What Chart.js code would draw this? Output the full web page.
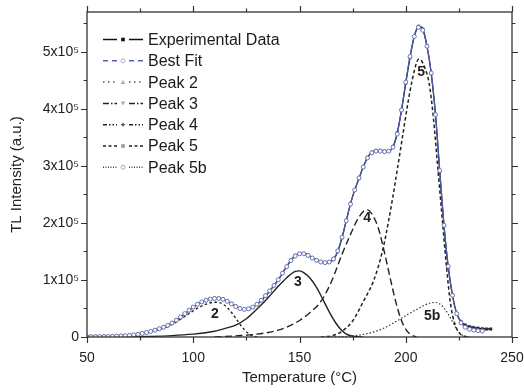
<!DOCTYPE html>
<html><head><meta charset="utf-8">
<script src="https://cdn.jsdelivr.net/npm/chart.js@4.4.1/dist/chart.umd.min.js"></script>
<style>html,body{margin:0;padding:0;background:#fff;}canvas{display:block;}</style>
</head><body>
<canvas id="c" width="524" height="392"></canvas>
<script>
// ---- data (temperature in °C, TL intensity in a.u.) ----
const expTemp = [50,52,54,56,58,60,62,64,66,68,70,72,74,76,78,80,82,84,86,88,90,92,94,96,98,100,102,104,106,108,110,112,114,116,118,120,122,124,126,128,130,132,134,136,138,140,142,144,146,148,150,152,154,156,158,160,162,164,166,168,170,172,174,176,178,180,182,184,186,188,190,192,194,196,198,200,202,204,206,208,210,212,214,216,218,220,222,224,226,228,230,232,234,236,238,240];
const expIntensity = [1000,1000,1000,1000,1000,1200,1300,1500,1800,2200,2800,3500,4500,6000,7800,9800,12000,14500,17000,20000,24000,29000,34500,40500,46500,52000,57000,61000,64000,66500,68000,68000,66500,63000,58500,54000,50500,48500,49000,52000,57000,64000,72000,80500,90000,100000,112000,124000,135000,143000,146500,146500,143500,139000,135000,132000,130500,131000,136000,150000,174000,204000,234000,258000,278000,298000,315000,324000,327000,327000,326000,326000,334000,358000,398000,445000,490000,527000,545000,540000,510000,462000,390000,290000,195000,122000,73000,41000,27000,21000,18000,16500,15500,14500,14000,14000];

const fitTemp = [50,52,54,56,58,60,62,64,66,68,70,72,74,76,78,80,82,84,86,88,90,92,94,96,98,100,102,104,106,108,110,112,114,116,118,120,122,124,126,128,130,132,134,136,138,140,142,144,146,148,150,152,154,156,158,160,162,164,166,168,170,172,174,176,178,180,182,184,186,188,190,192,194,196,198,200,202,204,206,208,210,212,214,216,218,220,222,224,226,228,230,232,234,236];
const fitIntensity = [500,500,600,700,800,1000,1200,1500,1900,2400,3000,3800,4800,6200,7900,9800,12000,14500,17200,20500,24500,29500,35000,41000,47000,52500,57500,61500,64500,66500,67500,67500,66000,62500,58000,53500,50000,48500,49500,52500,57500,64500,72500,81000,90500,100500,112000,123500,134000,142000,146000,146000,143000,138500,134500,131500,130500,131500,137000,151000,175000,204000,233000,258000,279000,298000,314000,323000,326000,326000,325000,326000,333000,356000,398000,447000,492000,527000,543000,538000,510000,463000,390000,292000,196000,124000,73000,41000,25000,17000,13500,12000,11000,10500];

const peak2Temp = [50,60,70,74,78,82,86,90,94,98,102,106,108,110,112,114,116,118,120,122,124,126,128,130];
const peak2Intensity = [0,500,2500,4000,7000,11000,15500,22000,31000,41000,50500,57500,60000,61000,60500,57500,51500,43000,33000,22500,13000,6000,2000,0];

const peak3Temp = [70,80,90,100,105,110,115,120,125,130,135,140,144,148,150,152,155,158,161,164,167,170,173,176,180];
const peak3Intensity = [0,1000,2500,5000,7000,10000,15000,21000,32000,49000,68000,89000,104000,115000,116000,113000,103000,87000,66000,44000,25000,11000,3500,800,0];

const peak4Temp = [110,120,130,140,145,150,155,160,165,170,174,177,180,182,184,187,190,193,196,199,202,205];
const peak4Intensity = [0,2000,5000,12000,19000,29000,43000,62000,97000,145000,180000,204000,220000,223000,216000,192000,148000,98000,52000,20000,5000,0];

const peak5Temp = [160,165,170,175,180,185,189,192,195,198,201,203,205,206,207,209,211,213,215,217,219,221,223,225,227,230];
const peak5Intensity = [0,2000,10000,28000,62000,100000,150000,205000,270000,340000,410000,450000,480000,487000,486000,472000,445000,385000,300000,215000,130000,60000,24000,8000,2000,0];

const peak5bTemp = [165,170,175,180,185,190,194,198,202,206,209,212,214,216,218,220,222,224,226,228,230];
const peak5bIntensity = [0,500,2000,4500,9000,16000,24000,33000,42000,50000,56000,60000,60500,58000,51000,40000,27000,14000,5000,1000,0];

const seriesNames = ["Experimental Data","Best Fit","Peak 2","Peak 3","Peak 4","Peak 5","Peak 5b"];
const xTickValues = [50,100,150,200,250];
const yTickValues = [0,100000,200000,300000,400000,500000];
const peakLabelText = ["2","3","4","5","5b"];
const peakLabelTemp = [110.2,149.3,181.8,207.2,212.4];
const peakLabelIntensity = [40000,96000,209000,465000,37000];

// ---- build chart ----
const pts = (t, v) => t.map((x, i) => ({x: x, y: v[i]}));
const FONT = '"Liberation Sans", Arial, Helvetica, sans-serif';
const TXT = '#222';

const datasets = [
  {label: seriesNames[0], data: pts(expTemp, expIntensity), order: 1,
   borderColor: '#111', borderWidth: 1.3, pointStyle: 'rect', pointRadius: 1.8,
   pointBackgroundColor: '#2a2a40', pointBorderColor: '#2a2a40', pointBorderWidth: 0.5,
   legendDash: [], legendColor: '#111', legendMarker: 'fsquare', legendMarkerColor: '#111'},
  {label: seriesNames[1], data: pts(fitTemp, fitIntensity), order: 0,
   borderColor: '#4f5cae', borderWidth: 1.2, pointStyle: 'circle', pointRadius: 2,
   pointBackgroundColor: '#ffffff', pointBorderColor: '#6a74b0', pointBorderWidth: 1,
   legendDash: [5,4], legendColor: '#5560b0', legendMarker: 'ocircle', legendMarkerColor: '#aab0d8'},
  {label: seriesNames[2], data: pts(peak2Temp, peak2Intensity), order: 2,
   borderColor: '#222', borderWidth: 1.4, borderDash: [2.5,2.5], pointRadius: 0,
   legendDash: [1.5,3.5], legendColor: '#555', legendMarker: 'tri', legendMarkerColor: '#aaa'},
  {label: seriesNames[3], data: pts(peak3Temp, peak3Intensity), order: 2,
   borderColor: '#222', borderWidth: 1.4, borderDash: [], pointRadius: 0,
   legendDash: [6,2,1.5,2], legendColor: '#222', legendMarker: 'dtri', legendMarkerColor: '#aaa'},
  {label: seriesNames[4], data: pts(peak4Temp, peak4Intensity), order: 2,
   borderColor: '#222', borderWidth: 1.4, borderDash: [7,3.5], pointRadius: 0,
   legendDash: [4,2,1.5,2,1.5,2], legendColor: '#222', legendMarker: 'plus', legendMarkerColor: '#333'},
  {label: seriesNames[5], data: pts(peak5Temp, peak5Intensity), order: 2,
   borderColor: '#222', borderWidth: 1.5, borderDash: [3.5,2.5], pointRadius: 0,
   legendDash: [3,2.5], legendColor: '#222', legendMarker: 'fsquare', legendMarkerColor: '#999'},
  {label: seriesNames[6], data: pts(peak5bTemp, peak5bIntensity), order: 2,
   borderColor: '#333', borderWidth: 1.2, borderDash: [1.5,2], pointRadius: 0,
   legendDash: [1,1.5], legendColor: '#444', legendMarker: 'ocircle', legendMarkerColor: '#aaa'}
];

function drawMarker(ctx, kind, x, y, color) {
  ctx.save();
  ctx.setLineDash([]);
  ctx.fillStyle = color; ctx.strokeStyle = color; ctx.lineWidth = 1;
  ctx.beginPath();
  if (kind === 'fsquare') { ctx.fillRect(x - 1.8, y - 1.8, 3.6, 3.6); }
  else if (kind === 'ocircle') { ctx.arc(x, y, 2, 0, Math.PI * 2); ctx.stroke(); }
  else if (kind === 'tri') { ctx.moveTo(x, y - 2.2); ctx.lineTo(x + 2.2, y + 1.8); ctx.lineTo(x - 2.2, y + 1.8); ctx.closePath(); ctx.fill(); }
  else if (kind === 'dtri') { ctx.moveTo(x, y + 2.2); ctx.lineTo(x + 2.2, y - 1.8); ctx.lineTo(x - 2.2, y - 1.8); ctx.closePath(); ctx.fill(); }
  else if (kind === 'plus') { ctx.moveTo(x - 2, y); ctx.lineTo(x + 2, y); ctx.moveTo(x, y - 2); ctx.lineTo(x, y + 2); ctx.stroke(); }
  ctx.restore();
}

const legendPlugin = {
  id: 'customLegend',
  afterDraw(chart) {
    const ctx = chart.ctx;
    const x0 = 103, x1 = 143, tx = 148;
    let y = 39.5;
    const dy = 21.3;
    chart.data.datasets.forEach(ds => {
      ctx.save();
      ctx.strokeStyle = ds.legendColor; ctx.lineWidth = 1.5;
      ctx.setLineDash(ds.legendDash);
      ctx.beginPath(); ctx.moveTo(x0, y); ctx.lineTo(x0 + 14, y); ctx.stroke();
      ctx.beginPath(); ctx.moveTo(x1 - 14, y); ctx.lineTo(x1, y); ctx.stroke();
      drawMarker(ctx, ds.legendMarker, (x0 + x1) / 2, y, ds.legendMarkerColor);
      ctx.setLineDash([]);
      ctx.fillStyle = '#1a1a1a';
      ctx.font = '16px ' + FONT;
      ctx.textBaseline = 'middle'; ctx.textAlign = 'left';
      ctx.fillText(ds.label, tx, y + 1);
      ctx.restore();
      y += dy;
    });
  }
};

const peakLabelPlugin = {
  id: 'peakLabels',
  afterDatasetsDraw(chart) {
    const ctx = chart.ctx, xs = chart.scales.x, ys = chart.scales.y;
    ctx.save();
    ctx.font = 'bold 14px ' + FONT;
    ctx.fillStyle = '#222';
    ctx.textAlign = 'center'; ctx.textBaseline = 'middle';
    peakLabelText.forEach((t, i) => {
      ctx.fillText(t, xs.getPixelForValue(peakLabelTemp[i]), ys.getPixelForValue(peakLabelIntensity[i]));
    });
    ctx.restore();
  }
};

const framePlugin = {
  id: 'frameTicks',
  afterDraw(chart) {
    const ctx = chart.ctx, a = chart.chartArea, xs = chart.scales.x, ys = chart.scales.y;
    ctx.save();
    ctx.strokeStyle = '#333'; ctx.lineWidth = 1.3; ctx.setLineDash([]);
    ctx.strokeRect(a.left, a.top, a.right - a.left, a.bottom - a.top);
    ctx.lineWidth = 1.2;
    ctx.beginPath();
    const xt = [];
    for (let i = 0; i < xTickValues.length; i++) {
      xt.push([xTickValues[i], 6]);
      if (i < xTickValues.length - 1) xt.push([(xTickValues[i] + xTickValues[i + 1]) / 2, 3.5]);
    }
    xt.forEach(([v, L]) => {
      const p = Math.round(xs.getPixelForValue(v)) + 0.5;
      ctx.moveTo(p, a.bottom); ctx.lineTo(p, a.bottom + L);
      ctx.moveTo(p, a.top); ctx.lineTo(p, a.top - L);
    });
    const yt = [];
    for (let i = 0; i < yTickValues.length; i++) {
      yt.push([yTickValues[i], 6]);
      yt.push([yTickValues[i] + 50000, 3.5]);
    }
    yt.forEach(([v, L]) => {
      if (v > ys.max) return;
      const p = Math.round(ys.getPixelForValue(v)) + 0.5;
      ctx.moveTo(a.left, p); ctx.lineTo(a.left - L, p);
      ctx.moveTo(a.right, p); ctx.lineTo(a.right + L, p);
    });
    ctx.stroke();
    ctx.restore();
  }
};

new Chart(document.getElementById('c'), {
  type: 'line',
  data: {datasets: datasets},
  options: {
    responsive: false, animation: false, devicePixelRatio: 1,
    layout: {padding: {left: 0, right: 0, top: 12, bottom: 0}},
    plugins: {legend: {display: false}, tooltip: {enabled: false}},
    elements: {line: {tension: 0.3, cubicInterpolationMode: 'monotone'}},
    scales: {
      x: {
        type: 'linear', min: 50, max: 250,
        ticks: {stepSize: 50, padding: 13, color: TXT, font: {size: 14, family: FONT}, maxRotation: 0, autoSkip: false},
        afterBuildTicks(s) { s.ticks = xTickValues.map(v => ({value: v})); },
        grid: {display: false, drawTicks: false}, border: {display: false},
        title: {display: true, text: 'Temperature (°C)', color: TXT, font: {size: 15, family: FONT}, padding: {top: 0, bottom: 5}},
        afterFit(s) { s.height = 55; s.paddingRight = 12; s.paddingLeft = 0; }
      },
      y: {
        type: 'linear', min: 0, max: 570000,
        ticks: {padding: 8, color: TXT, font: {size: 14, family: FONT},
          callback: v => v === 0 ? '0' : (v / 100000) + 'x10\u2075'},
        afterBuildTicks(s) { s.ticks = yTickValues.map(v => ({value: v})); },
        grid: {display: false, drawTicks: false}, border: {display: false},
        title: {display: true, text: 'TL Intensity (a.u.)', color: TXT, font: {size: 15, family: FONT}, padding: {top: 8, bottom: 0}},
        afterFit(s) { s.width = 87; s.paddingTop = 0; s.paddingBottom = 0; }
      }
    }
  },
  plugins: [framePlugin, legendPlugin, peakLabelPlugin]
});
</script>
</body></html>
